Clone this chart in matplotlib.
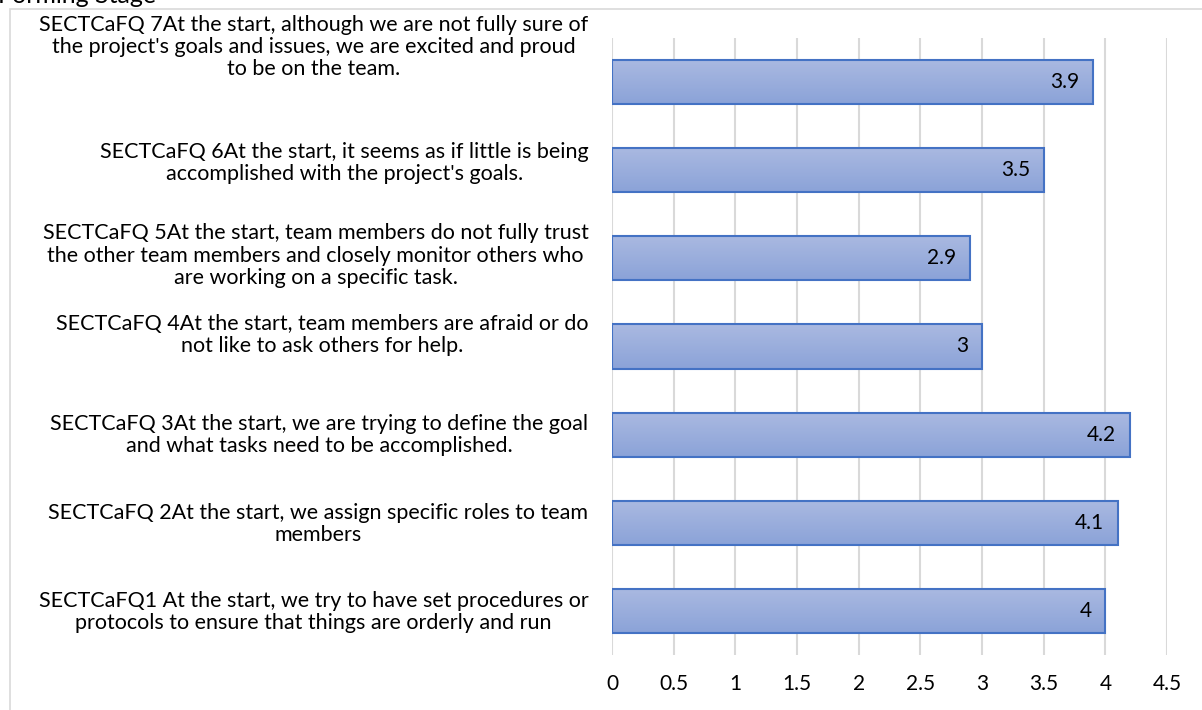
import matplotlib.pyplot as plt
import numpy as np
from matplotlib.colors import LinearSegmentedColormap
from matplotlib.patches import Rectangle

plt.rcParams['font.family'] = ['Lato', 'DejaVu Sans']

title = 'Forming Stage'

# bottom to top
questions = [
    "SECTCaFQ1 At the start, we try to have set procedures or\nprotocols to ensure that things are orderly and run",
    "SECTCaFQ 2At the start, we assign specific roles to team\nmembers",
    "SECTCaFQ 3At the start, we are trying to define the goal\nand what tasks need to be accomplished.",
    "SECTCaFQ 4At the start, team members are afraid or do\nnot like to ask others for help.",
    "SECTCaFQ 5At the start, team members do not fully trust\nthe other team members and closely monitor others who\nare working on a specific task.",
    "SECTCaFQ 6At the start, it seems as if little is being\naccomplished with the project's goals.",
    "SECTCaFQ 7At the start, although we are not fully sure of\nthe project's goals and issues, we are excited and proud\nto be on the team.",
]
scores = [4, 4.1, 4.2, 3, 2.9, 3.5, 3.9]
x_ticks = [0, 0.5, 1, 1.5, 2, 2.5, 3, 3.5, 4, 4.5]
x_tick_labels = ['0', '0.5', '1', '1.5', '2', '2.5', '3', '3.5', '4', '4.5']

# label nudges (points, upward) as laid out in the original
label_shift = [-1, -1, 0, 8, 2, 5, 25.5]

fig = plt.figure(figsize=(12.02, 7.10), dpi=100)
ax = fig.add_axes([0.5092, 0.0775, 0.4617, 0.869])

# chart frame and clipped title
fig.patches.append(Rectangle((10 / 1202, -0.1), 1.2, 1 - 9 / 710 + 0.1,
                             transform=fig.transFigure, fill=False,
                             edgecolor='#D9D9D9', linewidth=1.2))
fig.text(-2 / 1202, 1 - 3 / 710, title, fontsize=18, ha='left',
         va='baseline', color='#000000')

pos = np.arange(len(scores))
bars = ax.barh(pos, scores, height=0.5, color='none', edgecolor='#4472C4',
               linewidth=1.5, zorder=3)

grad = LinearSegmentedColormap.from_list('g', ['#AAB9E1', '#8BA3D8'])
for b in bars:
    x0, y0 = b.get_x(), b.get_y()
    im = ax.imshow(np.linspace(0, 1, 50).reshape(-1, 1), cmap=grad, origin='upper',
                   aspect='auto', extent=[x0, x0 + b.get_width(), y0, y0 + b.get_height()],
                   zorder=2)
    im.set_clip_path(b)

for p, v in zip(pos, scores):
    ax.annotate(f'{v:g}', (v, p), xytext=(-10, 0), textcoords='offset points',
                ha='right', va='center', fontsize=15, zorder=4)

ax.set_xlim(0, 4.5)
ax.set_ylim(-0.5, len(scores) - 0.5)
ax.set_xticks(x_ticks)
ax.set_xticklabels(x_tick_labels, fontsize=15)
ax.set_yticks(pos)
ax.set_yticklabels([])
for p, q, s in zip(pos, questions, label_shift):
    ax.annotate(q, (0, p), xytext=(-17, s), textcoords='offset points',
                xycoords=('axes fraction', 'data'), ha='right', va='center',
                multialignment='center', fontsize=15.5, linespacing=1.13)

ax.tick_params(axis='both', length=0)
ax.tick_params(axis='x', pad=14)
ax.grid(axis='x', color='#D9D9D9', linewidth=1.5, zorder=0)
ax.set_axisbelow(True)
for s in ax.spines.values():
    s.set_visible(False)

fig.savefig('out.png', dpi=100)
